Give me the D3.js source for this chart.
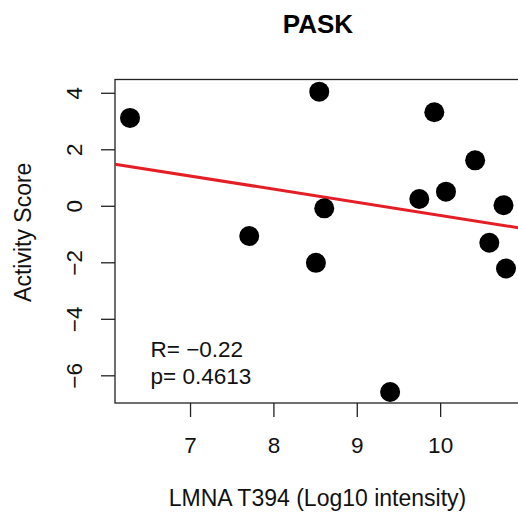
<!DOCTYPE html>
<html><head><meta charset="utf-8">
<script src="https://cdn.jsdelivr.net/npm/d3@7"></script>
<style>
html,body{margin:0;padding:0;background:#fff;}
svg text{font-family:"Liberation Sans",Arial,sans-serif;}
</style></head>
<body>
<svg id="chart" width="518" height="515"></svg>
<script>
// data
const xValues = [6.28, 8.55, 9.93, 10.42, 10.07, 9.75, 8.61, 10.76, 7.71, 10.59, 8.51, 10.79, 9.40];
const yValues = [3.11, 4.04, 3.31, 1.61, 0.50, 0.24, -0.09, 0.02, -1.07, -1.31, -2.02, -2.22, -6.59];
const xTicks = [7, 8, 9, 10];
const yTicks = [4, 2, 0, -2, -4, -6];
const fitLine = [4.31, -0.465]; // intercept, slope
const statsLabels = ["R= \u22120.22", "p= 0.4613"];
const titleText = "PASK";
const xLabel = "LMNA T394 (Log10 intensity)";
const yLabel = "Activity Score";

(function () {
const svg = d3.select("#chart");
const pLeft = 115, pRight = 521, pTop = 79.5, pBottom = 403;
const x = d3.scaleLinear().domain([6.1, 10.97]).range([pLeft, pRight]);
const y = d3.scaleLinear().domain([-6.98, 4.47]).range([pBottom, pTop]);

// box
svg.append("rect").attr("x", pLeft).attr("y", pTop)
  .attr("width", pRight - pLeft).attr("height", pBottom - pTop)
  .attr("fill", "none").attr("stroke", "#222").attr("stroke-width", 1.3);

// x axis
const xAxis = d3.axisBottom(x).tickValues(xTicks).tickSize(14).tickFormat(d3.format("d"));
const gx = svg.append("g").attr("transform", `translate(0,${pBottom})`).call(xAxis);
gx.select(".domain").remove();
gx.selectAll(".tick line").attr("stroke", "#222").attr("stroke-width", 1.3);
gx.selectAll(".tick text").attr("font-size", 22.5).attr("fill", "#111")
  .attr("dy", null).attr("y", 50);

// y axis
const yAxis = d3.axisLeft(y).tickValues(yTicks).tickSize(14).tickFormat(d => d < 0 ? "\u2212" + Math.abs(d) : d);
const gy = svg.append("g").attr("transform", `translate(${pLeft},0)`).call(yAxis);
gy.select(".domain").remove();
gy.selectAll(".tick line").attr("stroke", "#222").attr("stroke-width", 1.3);
gy.selectAll(".tick text").attr("font-size", 22.5).attr("fill", "#111")
  .attr("x", null).attr("dy", null)
  .attr("text-anchor", "middle")
  .attr("transform", "translate(-33,0) rotate(-90)");

// regression line
const [b0, b1] = fitLine;
const xd = x.domain();
svg.append("line")
  .attr("x1", x(xd[0])).attr("y1", y(b0 + b1 * xd[0]))
  .attr("x2", x(xd[1])).attr("y2", y(b0 + b1 * xd[1]))
  .attr("stroke", "#e41e25").attr("stroke-width", 3);

// points
svg.append("g").selectAll("circle").data(xValues.map((v, i) => [v, yValues[i]]))
  .join("circle")
  .attr("cx", d => x(d[0])).attr("cy", d => y(d[1]))
  .attr("r", 10).attr("fill", "#000");

// stats text
svg.append("g").selectAll("text").data(statsLabels).join("text")
  .attr("x", 150.5).attr("y", (d, i) => 357 + i * 26.5)
  .attr("font-size", 22.5).attr("fill", "#111").text(d => d);

// title
svg.append("text").attr("x", (pLeft + pRight) / 2).attr("y", 33)
  .attr("text-anchor", "middle").attr("font-size", 26).attr("font-weight", "bold")
  .attr("fill", "#000").text(titleText);

// axis labels
svg.append("text").attr("x", (pLeft + pRight) / 2 - 0.5).attr("y", 506)
  .attr("text-anchor", "middle").attr("font-size", 23).attr("fill", "#111").text(xLabel);
svg.append("text").attr("transform", `translate(31,${(pTop + pBottom) / 2 - 9}) rotate(-90)`)
  .attr("text-anchor", "middle").attr("font-size", 23).attr("fill", "#111").text(yLabel);
})();
</script>
</body></html>
